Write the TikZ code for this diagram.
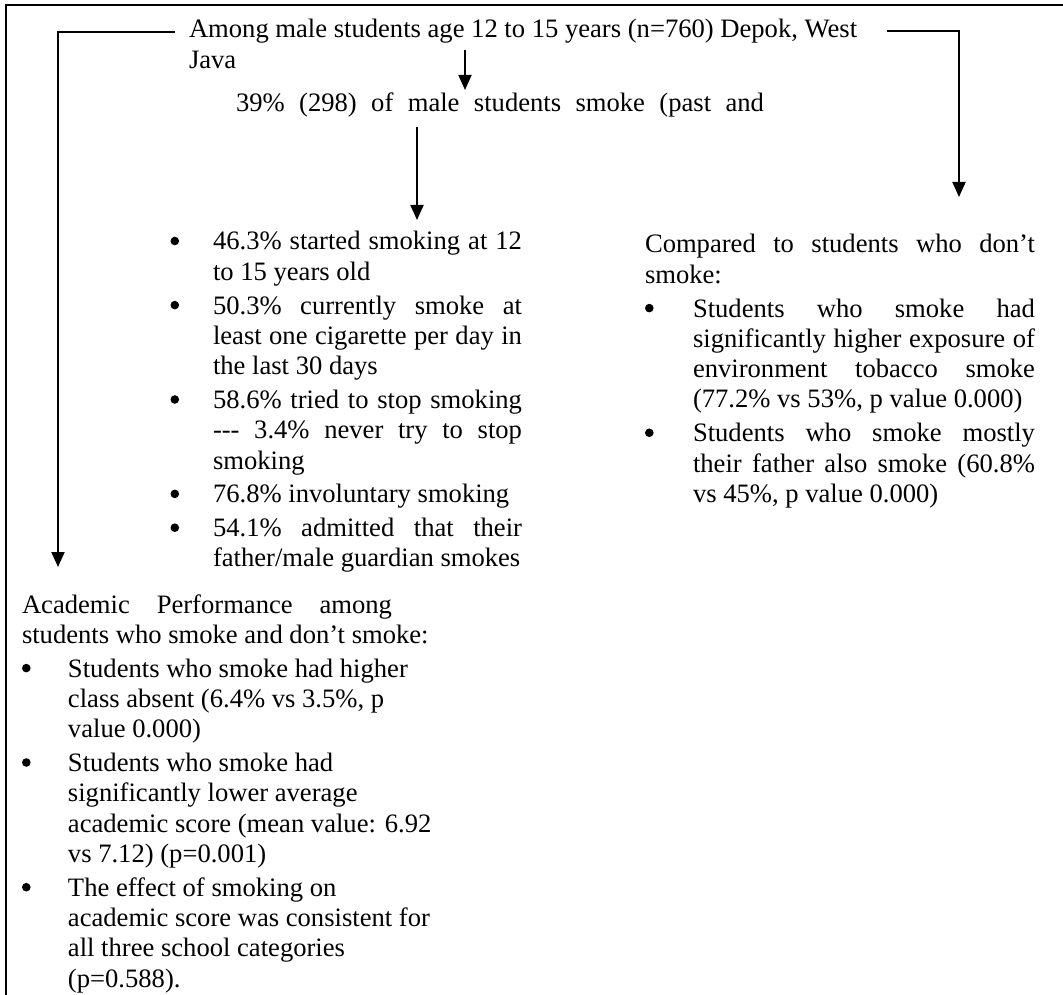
\documentclass[tikz,border=0pt]{standalone}
\usepackage{fontspec}
\setmainfont{Liberation Serif}
\usetikzlibrary{arrows.meta}
% a justified line of given width
\newcommand{\jline}[2]{\makebox[#1][s]{#2}}
% round list bullet
\newcommand{\bl}{\tikz[baseline=0pt]\fill (4.5pt,9pt) circle[radius=4.3pt];}

\begin{document}
\begin{tikzpicture}[x=1pt,y=-1pt,
  txt/.style={anchor=base west, inner sep=0pt, outer sep=0pt,
              font=\fontsize{26.6}{30.3}\selectfont},
  conn/.style={line width=2pt},
  arr/.style={conn,-{Triangle[width=13pt,length=15pt]}},
  frame/.style={line width=2pt}]
\useasboundingbox (0,0) rectangle (1063,995);

% open frame (top and left sides)
\draw[frame] (6,995) -- (6,5) -- (1063,5);

% heading
\node[txt] (title) at (189,38) {\begin{tabular}[t]{@{}l@{}}
Among male students age 12 to 15 years (n=760) Depok, West\\
Java
\end{tabular}};

\node[txt] (smoke) at (236,112)
  {\jline{528pt}{39\%  (298)  of  male  students  smoke  (past  and}};

% smoker profile
\node[txt] (list) at (170.5,250) {\begin{tabular}[t]{@{}p{42.5pt}@{}l@{}}
\bl & \jline{309pt}{46.3\% started smoking at 12}\\
    & to 15 years old\\[3.5pt]
\bl & \jline{309pt}{50.3\%  currently smoke at}\\
    & \jline{309pt}{least one cigarette per day in}\\
    & the last 30 days\\[3.5pt]
\bl & \jline{309pt}{58.6\% tried to stop smoking}\\
    & \jline{309pt}{-{}-{}- 3.4\% never try to stop}\\
    & smoking\\[3.5pt]
\bl & 76.8\% involuntary smoking\\[3.5pt]
\bl & \jline{309pt}{54.1\% admitted that their}\\
    & father/male guardian smokes
\end{tabular}};

% comparison with non-smokers
\node[txt] (cmp) at (645,253) {\begin{tabular}[t]{@{}p{48pt}@{}l@{}}
\multicolumn{2}{@{}l@{}}{\jline{390pt}{Compared to students who don’t}}\\
\multicolumn{2}{@{}l@{}}{smoke:}\\[3.5pt]
\bl & \jline{342pt}{Students who smoke had}\\
    & \jline{342pt}{significantly higher exposure of}\\
    & \jline{342pt}{environment tobacco smoke}\\
    & (77.2\% vs 53\%, p value 0.000)\\[3.5pt]
\bl & \jline{342pt}{Students who smoke mostly}\\
    & \jline{342pt}{their father also smoke (60.8\%}\\
    & vs 45\%, p value 0.000)
\end{tabular}};

% academic performance
\node[txt] (acad) at (22,613) {\begin{tabular}[t]{@{}p{46pt}@{}l@{}}
\multicolumn{2}{@{}l@{}}{\jline{370pt}{Academic Performance among}}\\
\multicolumn{2}{@{}l@{}}{students who smoke and don’t smoke:}\\[3.5pt]
\bl & Students who smoke had higher\\
    & class absent (6.4\% vs 3.5\%, p\\
    & value 0.000)\\[3.5pt]
\bl & Students who smoke had\\
    & significantly lower average\\
    & academic score (mean value: 6.92\\
    & vs 7.12) (p=0.001)\\[3.5pt]
\bl & The effect of smoking on\\
    & academic score was consistent for\\
    & all three school categories\\
    & (p=0.588).
\end{tabular}};

% connector end points
\coordinate (lOut) at (175,32);
\coordinate (lIn)  at (58,567);
\coordinate (rOut) at (887,31);
\coordinate (rIn)  at (959,197);
\coordinate (sOut) at (465,50);
\coordinate (sIn)  at (465,90);
\coordinate (mOut) at (417,127);
\coordinate (mIn)  at (417,220);

% connectors
\draw[arr] (lOut) -| (lIn);
\draw[arr] (rOut) -| (rIn);
\draw[arr] (sOut) -- (sIn);
\draw[arr] (mOut) -- (mIn);
\end{tikzpicture}
\end{document}
